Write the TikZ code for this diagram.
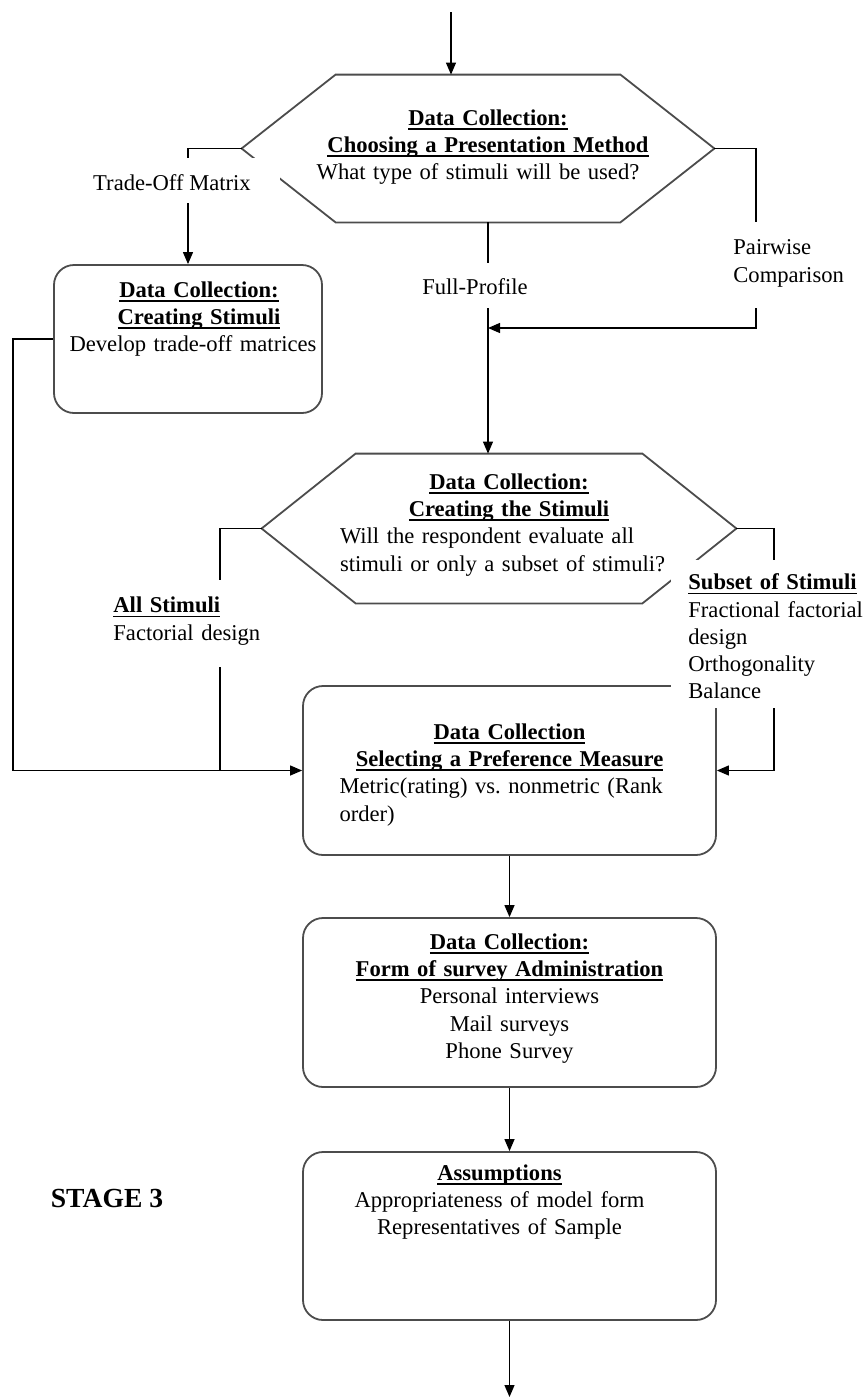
\documentclass[tikz,border=0pt]{standalone}
\usepackage{fontspec}
\setmainfont{Liberation Serif}
\usetikzlibrary{arrows.meta}
\newcommand{\ttl}[1]{\textbf{\setbox0\hbox{#1}\rlap{\rule[-2.2pt]{\wd0}{0.9pt}}\box0}}
\newcommand{\cttl}[2][0pt]{\makebox[\hsize]{\hspace*{#1}\ttl{#2}}}
\tikzset{
  box/.style={draw=black!70, line width=0.9pt, rounded corners=10pt, inner sep=0pt, align=center},
  hexline/.style={draw=black!70, line width=0.9pt},
  lbl/.style={fill=white, inner sep=0pt, align=left},
  link/.style={black, line width=0.6pt},
  arr/.style={link, -{Triangle[length=6pt,width=5pt]}}
}
\begin{document}
\frenchspacing
\begin{tikzpicture}[x=0.5pt, y=-0.5pt, font=\fontsize{11.3}{13.6}\selectfont]
\useasboundingbox (0,0) rectangle (867,1398);

\node[minimum width=236pt, text width=180pt, align=center, inner sep=0pt, text height=25.25pt, text depth=48.25pt] (hexA) at (478,148.5) {\hspace*{10pt}\ttl{Data Collection:}\\ \hspace*{10pt}\ttl{Choosing a Presentation Method}\\ What type of stimuli will be used?};
\draw[hexline] (hexA.west) -- ([xshift=47pt]hexA.north west) -- ([xshift=-47pt]hexA.north east) -- (hexA.east) -- ([xshift=-47pt]hexA.south east) -- ([xshift=47pt]hexA.south west) -- cycle;

\node[box, minimum width=134pt, text width=132pt, text height=16.25pt, text depth=57.75pt] (creating) at (188,339) {\hspace*{11pt}\ttl{Data Collection:}\\ \hspace*{11pt}\ttl{Creating Stimuli}\\ \hspace*{5pt}Develop trade-off matrices};

\node[minimum width=237pt, text width=166pt, align=left, inner sep=0pt, text height=17.75pt, text depth=56.75pt] (hexB) at (499,528.5) {\cttl[10pt]{Data Collection:}\\ \cttl[10pt]{Creating the Stimuli}\\ \mbox{\hspace*{3.5pt}Will the respondent evaluate all}\\ \mbox{\hspace*{3.5pt}stimuli or only a subset of stimuli?}};
\draw[hexline] (hexB.west) -- ([xshift=47pt]hexB.north west) -- ([xshift=-47pt]hexB.north east) -- (hexB.east) -- ([xshift=-47pt]hexB.south east) -- ([xshift=47pt]hexB.south west) -- cycle;

\node[box, minimum width=206.5pt, text width=170pt, align=left, text height=26.75pt, text depth=57.75pt] (prefm) at (509.5,770.5) {\cttl{Data Collection}\\ \cttl{Selecting a Preference Measure}\\ Metric(rating) vs. nonmetric (Rank\\ order)};
\node[box, minimum width=206.5pt, text width=170pt, text height=15.75pt, text depth=68.75pt] (survey) at (509.5,1002.5) {\ttl{Data Collection:}\\ \ttl{Form of survey Administration}\\ Personal interviews\\ Mail surveys\\ Phone Survey};
\node[box, minimum width=206.5pt, text width=170pt, text height=14.25pt, text depth=69.75pt] (assum) at (509.5,1236) {\hspace*{-10pt}\ttl{Assumptions}\\ \hspace*{-10pt}Appropriateness of model form\\ \hspace*{-10pt}Representatives of Sample};

\node[font=\fontsize{13.8}{16}\selectfont\bfseries] (stage) at (107,1198) {STAGE 3};

\coordinate (entry) at (451,12);
\coordinate (exit) at (509.5,1397);
\coordinate (join) at (488,328);
\coordinate (pbend) at (756,328);
\coordinate (lbend) at (13,339);
\coordinate (allj) at (220,770.5);
\coordinate (rbend) at (774,770.5);

\draw[arr] (entry) -- (entry |- hexA.north);
\draw[arr] (hexA.west) -| (creating.north);
\draw[arr] (hexA.south -| join) -- (join |- hexB.north);
\draw[arr] (hexA.east) -| (pbend) -- (join);
\draw[arr] (creating.west) -- (lbend) |- (prefm.west);
\draw[link] (hexB.west) -| (allj);
\draw[arr] (hexB.east) -| (rbend) -- (prefm.east);
\draw[arr] (prefm) -- (survey);
\draw[arr] (survey) -- (assum);
\draw[arr] (assum) -- (exit);

\node[lbl, minimum width=108pt, align=center, text height=16.25pt, text depth=6.25pt] (tradeoff) at (172,180.5) {Trade-Off Matrix};
\node[lbl, minimum width=60pt, align=center, text height=15.75pt, text depth=6.75pt] (fullp) at (475,285.5) {Full-Profile};
\node[lbl, anchor=north west, inner xsep=4pt, text width=70pt, text height=16.25pt, text depth=26.75pt] (pairw) at (725,222) {Pairwise\\ Comparison};
\node[lbl, anchor=north west, inner xsep=4pt, text width=80pt, text height=16.25pt, text depth=27.25pt] (allst) at (105,580) {\ttl{All Stimuli}\\ Factorial design};
\node[lbl, anchor=north west, inner xsep=8.5pt, text width=95pt, text height=14.75pt, text depth=59.25pt] (subset) at (671,560) {\ttl{Subset of Stimuli}\\ Fractional factorial\\ design\\ Orthogonality\\ Balance};
\end{tikzpicture}
\end{document}
